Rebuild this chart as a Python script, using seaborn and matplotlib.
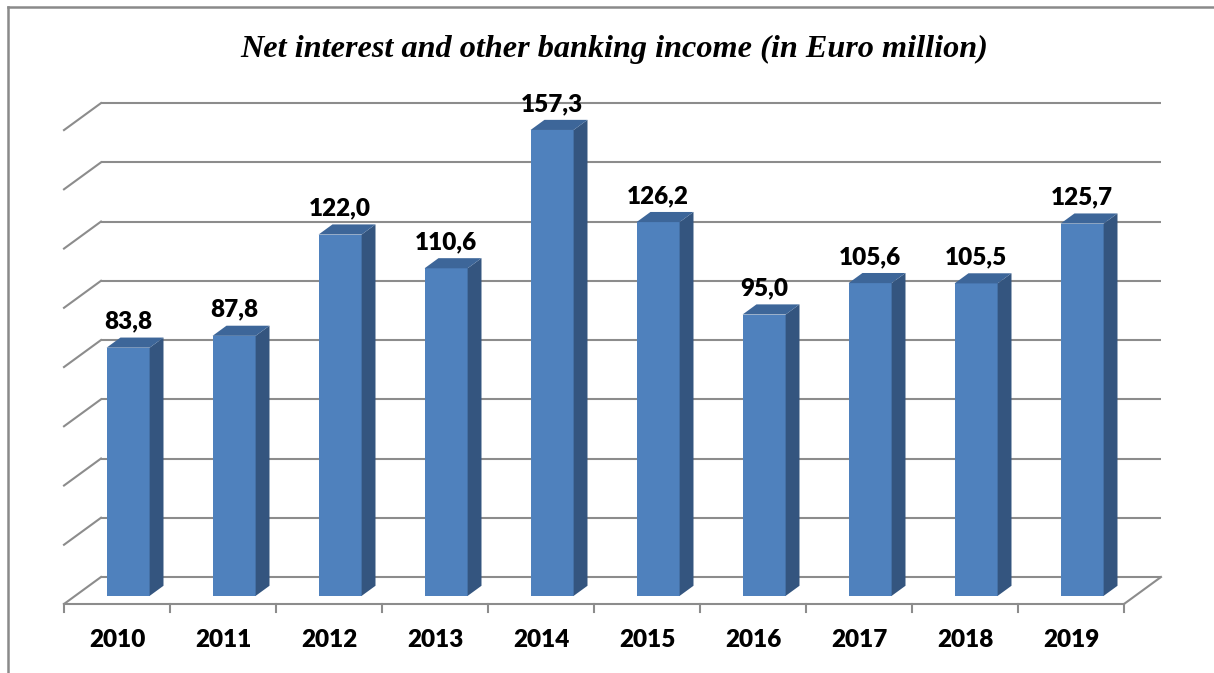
import matplotlib
matplotlib.use("Agg")
import matplotlib.pyplot as plt
import matplotlib.transforms as mtransforms
from matplotlib.patches import Polygon
from matplotlib.lines import Line2D
import pandas as pd
import seaborn as sns

# ---- data ----
years = ["2010", "2011", "2012", "2013", "2014", "2015", "2016", "2017", "2018", "2019"]
income = [83.8, 87.8, 122.0, 110.6, 157.3, 126.2, 95.0, 105.6, 105.5, 125.7]
value_labels = [f"{v:.1f}".replace(".", ",") for v in income]
grid_values = [0, 20, 40, 60, 80, 100, 120, 140, 160]
title = "Net interest and other banking income (in Euro million)"

# ---- colours ----
FRONT = "#4F81BD"
SIDE = "#34557F"
TOP = "#3D6699"
GRID = "#8C8C8C"
BORDER = "#8A8A8A"

W, H = 1214, 673
fig = plt.figure(figsize=(W / 100, H / 100), dpi=100)
ax = fig.add_axes([0, 0, 1, 1])

df = pd.DataFrame({"year": years, "income": income})
bar_w = 0.406
sns.barplot(data=df, x="year", y="income", color=FRONT, saturation=1,
            width=bar_w, errorbar=None, ax=ax, zorder=3)

# scale: 106 px per category, 2.962 px per Euro million
px_cat, px_unit = 106.0, 2.962
x0_px, y0_px = 117.0, 604.0
ax.set_xlim(-x0_px / px_cat, (W - x0_px) / px_cat)
ax.set_ylim(-(H - y0_px) / px_unit, y0_px / px_unit)
ax.axis("off")

# depth of the pseudo-3D box, in data units
DX = 37.0 / px_cat
DY = 27.0 / px_unit
f_front, f_back = 0.30, 0.675

# shift the front faces into the middle of the floor depth
shift = mtransforms.Affine2D().translate(f_front * DX, f_front * DY) + ax.transData
for p in ax.patches:
    p.set_transform(shift)
    p.set_edgecolor("none")
    p.set_zorder(3)

n = len(years)
x_left, x_right = -0.5, n - 0.5

# back wall and left side wall gridlines
for g in grid_values:
    ax.add_line(Line2D([x_left + DX, x_right + DX], [g + DY, g + DY],
                       color=GRID, lw=1.5, zorder=1, solid_capstyle="butt"))
    ax.add_line(Line2D([x_left, x_left + DX], [g, g + DY],
                       color=GRID, lw=1.5, zorder=1))
# floor front and right edges
ax.add_line(Line2D([x_left, x_right], [0, 0], color=GRID, lw=1.5, zorder=1))
ax.add_line(Line2D([x_right, x_right + DX], [0, DY], color=GRID, lw=1.5, zorder=1))
# category tick marks below the floor
tick_len = 8.0 / px_unit
for k in range(n + 1):
    xk = x_left + k
    ax.add_line(Line2D([xk, xk], [0, -tick_len], color=GRID, lw=1.5, zorder=1))

label_font = dict(fontsize=17.5, fontfamily="Lato", fontweight="heavy", color="black")

# side and top faces of each bar
for i, v in enumerate(income):
    xl, xr = i - bar_w / 2, i + bar_w / 2
    side = [(xr + f_front * DX, f_front * DY), (xr + f_back * DX, f_back * DY),
            (xr + f_back * DX, v + f_back * DY), (xr + f_front * DX, v + f_front * DY)]
    top = [(xl + f_front * DX, v + f_front * DY), (xr + f_front * DX, v + f_front * DY),
           (xr + f_back * DX, v + f_back * DY), (xl + f_back * DX, v + f_back * DY)]
    ax.add_patch(Polygon(side, closed=True, facecolor=SIDE, edgecolor="none", zorder=3))
    ax.add_patch(Polygon(top, closed=True, facecolor=TOP, edgecolor="none", zorder=3))

    # value label above the bar
    ax.annotate(value_labels[i], xy=(i + f_front * DX, v + f_front * DY),
                xytext=(0, 13.7), textcoords="offset points",
                ha="center", va="baseline", zorder=5, **label_font)
    # category label under the floor
    ax.annotate(years[i], xy=(i, 0), xytext=(0, -31.0), textcoords="offset points",
                ha="center", va="baseline", **label_font)

# title
fig.text(614 / W, 1 - 57 / H, title, ha="center", va="baseline",
         fontsize=23.2, fontfamily="Liberation Serif", fontstyle="italic",
         fontweight="bold", color="black")

# chart frame (left and top edges)
fig.add_artist(Line2D([8 / W, 8 / W], [0, 1 - 7 / H], transform=fig.transFigure,
                      color=BORDER, lw=1.8))
fig.add_artist(Line2D([8 / W, 1], [1 - 7 / H, 1 - 7 / H], transform=fig.transFigure,
                      color=BORDER, lw=1.8))

fig.savefig("out.png", dpi=100)
